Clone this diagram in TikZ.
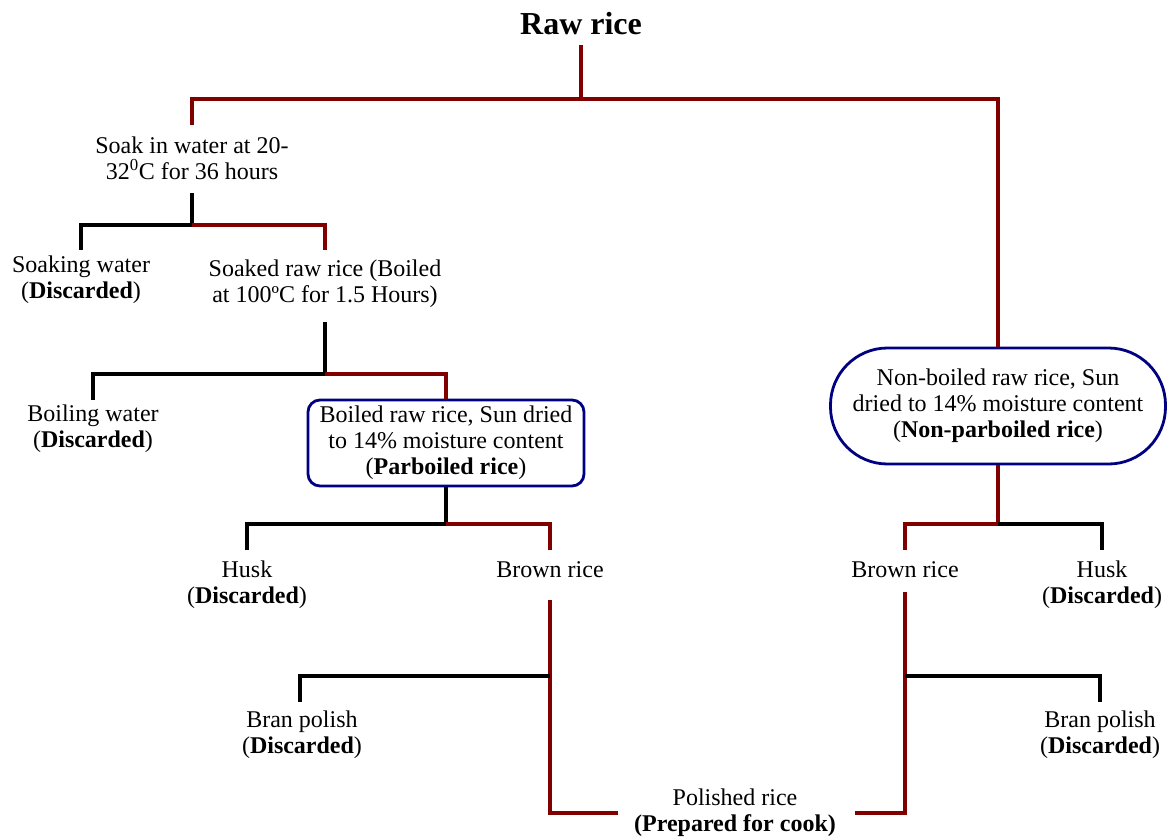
\documentclass[tikz,border=0pt]{standalone}
\usepackage{fontspec}
\setmainfont{Liberation Serif}
\definecolor{lred}{RGB}{128,0,0}
\definecolor{lblue}{RGB}{0,0,128}
\tikzset{
  txt/.style={font=\fontsize{24}{26}\selectfont, align=center, inner sep=0pt},
  rl/.style={draw=lred, line width=3.4pt},
  bl/.style={draw=black, line width=3.4pt},
  roundbox/.style={txt, draw=lblue, line width=2.8pt, rounded corners=12pt},
  stadium/.style={txt, draw=lblue, line width=2.8pt, rounded corners=57pt}
}
\begin{document}
\begin{tikzpicture}[x=1pt,y=-1pt]
\useasboundingbox (0,0) rectangle (1173,838);
% nodes
\node[txt, font=\fontsize{32}{34}\selectfont\bfseries] (title) at (581,24) {Raw rice};
\node[txt] (soak) at (192,158) {Soak in water at 20-\\32\textsuperscript{0}C for 36 hours};
\node[txt] (soakw) at (81,280) {Soaking water\\(\textbf{Discarded})};
\node[txt] (soakr) at (325,284) {Soaked raw rice (Boiled\\at 100ºC for 1.5 Hours)};
\node[txt] (boilw) at (93,429) {Boiling water\\(\textbf{Discarded})};
\node[roundbox, minimum width=276pt, minimum height=86pt] (parb) at (446,443)
  {Boiled raw rice, Sun dried\\to 14\% moisture content\\(\textbf{Parboiled rice})};
\node[stadium, minimum width=335pt, minimum height=116pt] (nonpb) at (998,406)
  {Non-boiled raw rice, Sun\\dried to 14\% moisture content\\(\textbf{Non-parboiled rice})};
\node[txt] (husk1) at (247,585) {Husk\\(\textbf{Discarded})};
\node[txt] (brown1) at (550,570) {Brown rice};
\node[txt] (bran1) at (302,735) {Bran polish\\(\textbf{Discarded})};
\node[txt] (pol) at (735,813) {Polished rice\\\textbf{(Prepared for cook)}};
\node[txt] (brown2) at (905,570) {Brown rice};
\node[txt] (husk2) at (1102,585) {Husk\\(\textbf{Discarded})};
\node[txt] (bran2) at (1100,735) {Bran polish\\(\textbf{Discarded})};
% junction coordinates
\coordinate (t0) at (581,45);
\coordinate (j0) at (581,99);
\coordinate (s0) at (192,125);
\coordinate (s1) at (192,193);
\coordinate (j1) at (192,225);
\coordinate (w1) at (81,250);
\coordinate (r1) at (325,250);
\coordinate (r2) at (325,322);
\coordinate (j2) at (325,374);
\coordinate (w2) at (93,400);
\coordinate (j3) at (446,524);
\coordinate (h1) at (247,550);
\coordinate (b1) at (550,550);
\coordinate (b1s) at (550,600);
\coordinate (j4) at (550,676);
\coordinate (p1) at (300,702);
\coordinate (e1) at (618,813);
\coordinate (j5) at (998,524);
\coordinate (b2) at (905,550);
\coordinate (h2) at (1102,550);
\coordinate (b2s) at (905,592);
\coordinate (j6) at (905,676);
\coordinate (p2) at (1100,702);
\coordinate (e2) at (855,813);
% connectors
\draw[rl] (t0) -- (j0);
\draw[rl] (s0) |- (j0) -| (nonpb.north);
\draw[bl] (s1) -- (j1) -| (w1);
\draw[rl] (j1) -| (r1);
\draw[bl] (r2) -- (j2) -| (w2);
\draw[rl] (j2) -| (parb.north);
\draw[bl] (parb.south) -- (j3) -| (h1);
\draw[rl] (j3) -| (b1);
\draw[rl] (b1s) |- (e1);
\draw[bl] (j4) -| (p1);
\draw[rl] (nonpb.south) -- (j5) -| (b2);
\draw[bl] (j5) -| (h2);
\draw[rl] (b2s) |- (e2);
\draw[bl] (j6) -| (p2);
\end{tikzpicture}
\end{document}
